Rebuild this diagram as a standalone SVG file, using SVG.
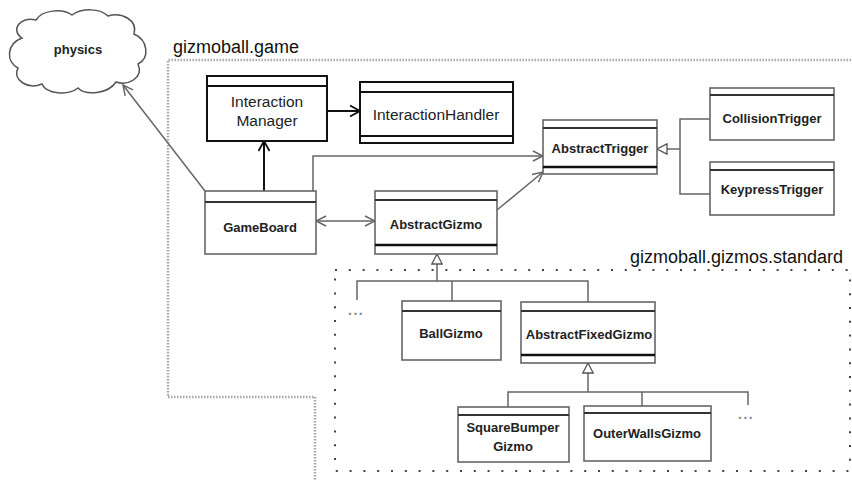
<svg xmlns="http://www.w3.org/2000/svg" width="852" height="481" viewBox="0 0 852 481">
  <style>
    text { font-family: "Liberation Sans", Arial, sans-serif; fill: #222; text-anchor: middle; }
    .pkg-label { font-size: 18px; text-anchor: start; fill: #111; }
    .pkg-label.right { text-anchor: end; }
    .name { font-size: 13px; font-weight: bold; }
    .name-lg { font-size: 15.5px; }
    .box rect { fill: #fff; stroke: #666; stroke-width: 1.6; }
    .box line { stroke: #333; stroke-width: 2; }
    .box .thick { stroke: #111; stroke-width: 2.4; }
    .box.dark rect { stroke: #111; stroke-width: 2; }
    .box.dark line { stroke: #111; stroke-width: 2; }
    .conn { fill: none; stroke: #666; stroke-width: 1.5; }
    .conn.dark { stroke: #111; stroke-width: 2; }
    .dots { font-size: 14px; font-weight: bold; fill: #888; letter-spacing: 1.5px; text-anchor: start; }
  </style>
  <defs>
    <marker id="arrow" viewBox="0 0 12 12" refX="11" refY="6" markerWidth="12" markerHeight="12" markerUnits="userSpaceOnUse" orient="auto-start-reverse">
      <path d="M1,1 L11,6 L1,11" fill="none" stroke="#666" stroke-width="1.5"/>
    </marker>
    <marker id="arrow-dark" viewBox="0 0 12 12" refX="11" refY="6" markerWidth="12" markerHeight="12" markerUnits="userSpaceOnUse" orient="auto">
      <path d="M1,0.5 L11,6 L1,11.5" fill="none" stroke="#111" stroke-width="1.8"/>
    </marker>
    <marker id="inherit" viewBox="0 0 12 12" refX="11" refY="6" markerWidth="12" markerHeight="12" markerUnits="userSpaceOnUse" orient="auto">
      <path d="M1,0.8 L11,6 L1,11.2 Z" fill="#fff" stroke="#555" stroke-width="1.3"/>
    </marker>
  </defs>

  <rect width="852" height="481" fill="#fff"/>

  <!-- packages -->
  <g id="pkg-game">
    <path d="M854,60 L168,60 L168,397 L315,397 L315,483" fill="none" stroke="#a8a8a8" stroke-width="2.5" stroke-dasharray="1.5 1.5"/>
    <text class="pkg-label" x="173" y="53">gizmoball.game</text>
  </g>
  <g id="pkg-gizmos">
    <rect x="335" y="270" width="515" height="201" fill="none" stroke="#444" stroke-width="2" stroke-dasharray="2 11.8"/>
    <text class="pkg-label right" x="843" y="263">gizmoball.gizmos.standard</text>
  </g>

  <!-- physics cloud -->
  <g id="physics">
    <path d="M22,38 C10,30 20,16 36,20 C42,10 62,8 72,15 C82,8 100,8 108,16 C122,12 138,20 134,34 C148,40 150,58 138,64 C144,78 128,86 116,82 C108,94 86,96 78,88 C68,96 46,94 42,84 C28,90 12,80 18,68 C6,62 6,44 22,38 Z" fill="#fff" stroke="#555" stroke-width="1.5"/>
    <text class="name" x="78" y="54">physics</text>
  </g>

  <!-- connectors -->
  <g id="connectors">
    <path class="conn" d="M205,191 L123,85" marker-end="url(#arrow)"/>
    <path class="conn dark" d="M264,191 L264,141" marker-end="url(#arrow-dark)"/>
    <path class="conn dark" d="M327,111 L360,111" marker-end="url(#arrow-dark)"/>
    <path class="conn" d="M313,191 L313,156 L543,156" marker-end="url(#arrow)"/>
    <path class="conn" d="M316,221 L375,221" marker-start="url(#arrow)" marker-end="url(#arrow)"/>
    <path class="conn" d="M497,210 L543,172" marker-end="url(#arrow)"/>
    <!-- trigger hierarchy -->
    <path class="conn" d="M710,119 L680,119 L680,194 L710,194"/>
    <path class="conn" d="M680,149 L657,149" marker-end="url(#inherit)"/>
    <!-- gizmo hierarchy -->
    <path class="conn" d="M357,300 L357,281 L588,281 L588,302 M452,281 L452,301"/>
    <path class="conn" d="M437,281 L437,254" marker-end="url(#inherit)"/>
    <!-- fixed gizmo hierarchy -->
    <path class="conn" d="M508,407 L508,392 L748,392 L748,405 M642,392 L642,406"/>
    <path class="conn" d="M588,392 L588,363" marker-end="url(#inherit)"/>
  </g>

  <!-- classes -->
  <g id="interaction-manager" class="box dark">
    <rect x="207" y="76" width="120" height="65"/>
    <line x1="207" y1="86" x2="327" y2="86"/>
    <text class="name-lg" x="267" y="107">Interaction</text>
    <text class="name-lg" x="267" y="126">Manager</text>
  </g>
  <g id="interaction-handler" class="box dark">
    <rect x="360" y="82" width="153" height="61"/>
    <line x1="360" y1="92" x2="513" y2="92"/>
    <line class="thick" x1="360" y1="136" x2="513" y2="136"/>
    <text class="name-lg" x="436" y="120">InteractionHandler</text>
  </g>
  <g id="abstract-trigger" class="box">
    <rect x="543" y="120" width="114" height="54"/>
    <line x1="543" y1="128" x2="657" y2="128"/>
    <line class="thick" x1="543" y1="167" x2="657" y2="167"/>
    <text class="name" x="600" y="153">AbstractTrigger</text>
  </g>
  <g id="collision-trigger" class="box">
    <rect x="710" y="88" width="124" height="52"/>
    <line x1="710" y1="95" x2="834" y2="95"/>
    <text class="name" x="772" y="123">CollisionTrigger</text>
  </g>
  <g id="keypress-trigger" class="box">
    <rect x="710" y="162" width="124" height="53"/>
    <line x1="710" y1="170" x2="834" y2="170"/>
    <text class="name" x="772" y="194">KeypressTrigger</text>
  </g>
  <g id="game-board" class="box">
    <rect x="205" y="191" width="111" height="63"/>
    <line x1="205" y1="202" x2="316" y2="202"/>
    <text class="name" x="260" y="232">GameBoard</text>
  </g>
  <g id="abstract-gizmo" class="box">
    <rect x="375" y="191" width="122" height="63"/>
    <line x1="375" y1="200" x2="497" y2="200"/>
    <line class="thick" x1="375" y1="245" x2="497" y2="245"/>
    <text class="name" x="436" y="229">AbstractGizmo</text>
  </g>
  <g id="ball-gizmo" class="box">
    <rect x="402" y="301" width="99" height="59"/>
    <line x1="402" y1="311" x2="501" y2="311"/>
    <text class="name" x="451" y="338">BallGizmo</text>
  </g>
  <g id="abstract-fixed-gizmo" class="box">
    <rect x="521" y="302" width="134" height="61"/>
    <line x1="521" y1="311" x2="655" y2="311"/>
    <line class="thick" x1="521" y1="355" x2="655" y2="355"/>
    <text class="name" x="589" y="339">AbstractFixedGizmo</text>
  </g>
  <g id="square-bumper-gizmo" class="box">
    <rect x="458" y="407" width="111" height="55"/>
    <line x1="458" y1="415" x2="569" y2="415"/>
    <text class="name" x="513" y="432">SquareBumper</text>
    <text class="name" x="513" y="451">Gizmo</text>
  </g>
  <g id="outer-walls-gizmo" class="box">
    <rect x="584" y="406" width="127" height="55"/>
    <line x1="584" y1="413" x2="711" y2="413"/>
    <text class="name" x="647" y="438">OuterWallsGizmo</text>
  </g>

  <!-- elided subclasses -->
  <text class="dots" x="348" y="315">...</text>
  <text class="dots" x="738" y="419">...</text>
</svg>
